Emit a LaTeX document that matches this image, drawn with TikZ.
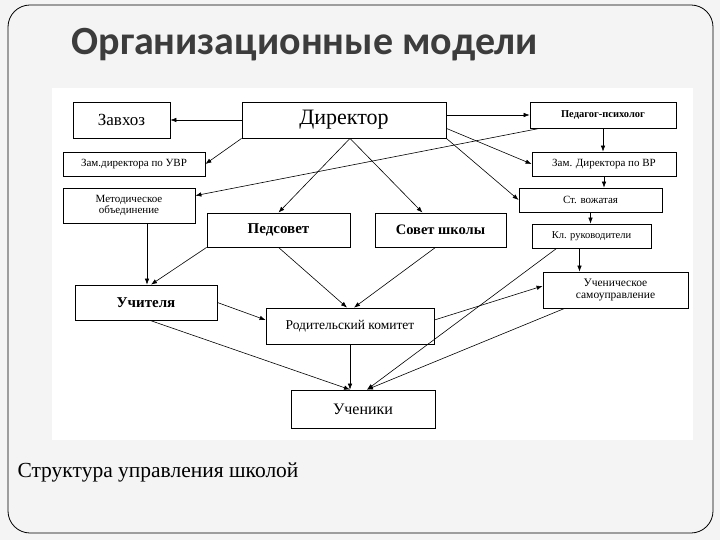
\documentclass[tikz,border=0pt]{standalone}
\usepackage{fontspec}
\setmainfont{Liberation Serif}
\newfontfamily\titlefont{Carlito}
\usetikzlibrary{arrows.meta,calc,shadows}
\definecolor{slidebg}{RGB}{244,244,244}
\definecolor{titlegray}{RGB}{60,60,60}
\tikzset{
  box/.style={draw=black, line width=0.8pt, fill=white, inner sep=1pt, align=center,
    drop shadow={shadow xshift=1.2pt, shadow yshift=-1.2pt, fill=gray!70, opacity=1}},
  conn/.style={line width=0.6pt, -{Latex[length=6pt,width=4.5pt]}},
  sz/.style={font=\fontsize{#1}{#1}\selectfont},
  bsz/.style={font=\bfseries\fontsize{#1}{#1}\selectfont},
}
\begin{document}
\begin{tikzpicture}[x=1pt,y=-1pt]
\useasboundingbox (0,0) rectangle (720,540);
\fill[slidebg] (0,0) rectangle (720,540);
\draw[line width=0.8pt, rounded corners=22pt] (8,5) rectangle (713,533);
\fill[white] (52,88) rectangle (693,440);
\node[anchor=west, font=\titlefont\bfseries\fontsize{40}{40}\selectfont, text=titlegray] (title) at (68,45) {Организационные модели};
\node[anchor=west, font=\fontsize{21.5}{21.5}\selectfont] (caption) at (14,472) {Структура управления школой};

% boxes
\node[box, minimum width=97pt, minimum height=36pt, sz=17] (zavhoz) at (121.5,120) {Завхоз};
\node[box, minimum width=204pt, minimum height=36pt, sz=22] (dir) at (344,120) {Директор};
\node[box, minimum width=146pt, minimum height=26pt, bsz=10.5] (psy) at (603,115) {Педагог-психолог};
\node[box, minimum width=142pt, minimum height=24pt, sz=11] (uvr) at (134,164) {Зам.директора по УВР};
\node[box, minimum width=144pt, minimum height=24pt, sz=11] (vr) at (604,164) {Зам. Директора по ВР};
\node[box, minimum width=132pt, minimum height=35pt, sz=11] (metod) at (129,205.5) {Методическое\\объединение};
\node[box, minimum width=143pt, minimum height=24pt, sz=11] (vozh) at (590.5,200) {Ст. вожатая};
\node[box, minimum width=143pt, minimum height=34pt, bsz=15] (pedsovet) at (278.5,230) {Педсовет};
\node[box, minimum width=131pt, minimum height=34pt, bsz=14.5] (sovet) at (440.5,230) {Совет школы};
\node[box, minimum width=119pt, minimum height=24pt, sz=10.5] (kl) at (591.5,236) {Кл. руководители};
\node[box, minimum width=145pt, minimum height=36pt, sz=11.5] (samo) at (615.5,290) {Ученическое\\самоуправление};
\node[box, minimum width=142pt, minimum height=35pt, bsz=15] (uchit) at (146,302.5) {Учителя};
\node[box, minimum width=168pt, minimum height=36pt, sz=13.5] (rod) at (350,326) {Родительский комитет};
\node[box, minimum width=144pt, minimum height=38pt, sz=16] (uchen) at (363,409) {Ученики};

% helper points
\coordinate (klout) at ($(kl.south)+(-12,0)$);
\coordinate (metout) at ($(metod.south)+(18,0)$);
\coordinate (apex) at ($(dir.south)+(6,0)$);

% connectors
\draw[conn] (dir.west) -- (zavhoz.east);
\draw[conn] (dir.south west) -- (uvr.east);
\draw[conn] ($(psy.south west)+(10,0)$) -- ($(metod.north east)+(0,8)$);
\draw[conn] (dir.east |- psy.west) -- (psy.west);
\draw[conn] ($(dir.south east)+(0,-10)$) -- (vr.west);
\draw[conn] (dir.south east) -- (vozh.west);
\draw[conn] (psy.south) -- (psy.south |- vr.north);
\draw[conn] (vr.south) -- (vr.south |- vozh.north);
\draw[conn] (vozh.south) -- (vozh.south |- kl.north);
\draw[conn] (klout) -- (klout |- samo.north);
\draw[conn] (apex) -- (pedsovet.north);
\draw[conn] (apex) -- ($(sovet.north)+(-18,0)$);
\draw[conn] (metout) -- (metout |- uchit.north);
\draw[conn] (pedsovet.south west) -- ($(uchit.north)+(5,0)$);
\draw[conn] (pedsovet.south) -- ($(rod.north)+(-3,0)$);
\draw[conn] ($(sovet.south)+(-5,0)$) -- ($(rod.north)+(4,0)$);
\draw[conn] (uchit.east) -- ($(rod.west)+(0,-6)$);
\draw[conn] ($(rod.east)+(0,-6)$) -- ($(samo.west)+(0,-4)$);
\draw[conn] ($(uchit.south)+(4,0)$) -- ($(uchen.north)+(-13,0)$);
\draw[conn] (rod.south) -- (rod.south |- uchen.north);
\draw[conn] ($(kl.south west)+(25,0)$) -- ($(uchen.north)+(4,0)$);
\draw[conn] ($(samo.south west)+(22,0)$) -- ($(uchen.north)+(4,0)$);
\end{tikzpicture}
\end{document}
